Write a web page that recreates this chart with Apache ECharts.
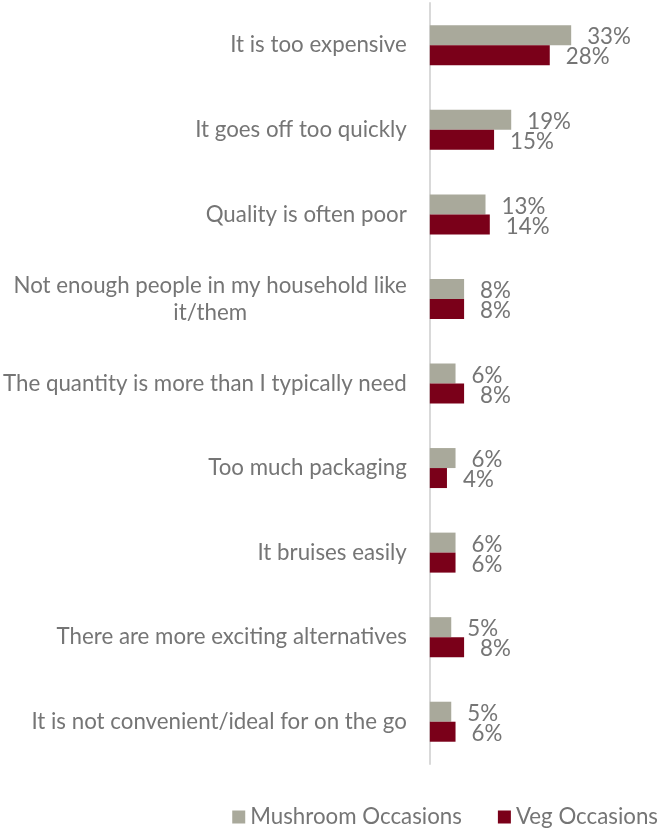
<!DOCTYPE html>
<html>
<head>
<meta charset="utf-8">
<script src="https://cdn.jsdelivr.net/npm/echarts@6/dist/echarts.min.js"></script>
<style>
  html, body { margin: 0; padding: 0; background: #ffffff; }
  #chart { width: 659px; height: 832px; }
</style>
</head>
<body>
<div id="chart"></div>
<script>
// Reasons given for not buying, share of respondents (%)
const categories = [
  'It is too expensive',
  'It goes off too quickly',
  'Quality is often poor',
  'Not enough people in my household like it/them',
  'The quantity is more than I typically need',
  'Too much packaging',
  'It bruises easily',
  'There are more exciting alternatives',
  'It is not convenient/ideal for on the go'
];
const seriesNames = ['Mushroom Occasions', 'Veg Occasions'];
const mushroomValues = [33, 19, 13, 8, 6, 6, 6, 5, 5];
const vegValues = [28, 15, 14, 8, 8, 4, 6, 8, 6];

const FONT = 'Lato';
const FONT_SIZE = 22.3;
const TEXT_COLOR = '#757575';
const LABEL_MAX_WIDTH = 406;

// Word-wrap a category label to the available width, centring each line
const measureCtx = document.createElement('canvas').getContext('2d');
measureCtx.font = FONT_SIZE + 'px ' + FONT;
function wrapLabel(text) {
  const words = text.split(' ');
  const lines = [];
  let line = '';
  words.forEach(w => {
    const test = line ? line + ' ' + w : w;
    if (line && measureCtx.measureText(test).width > LABEL_MAX_WIDTH) {
      lines.push(line);
      line = w;
    } else {
      line = test;
    }
  });
  if (line) lines.push(line);
  return lines.map(l => '{c|' + l + '}').join('\n');
}

const chart = echarts.init(document.getElementById('chart'), null, { renderer: 'canvas' });

const labelStyle = {
  show: true,
  position: 'right',
  distance: 16,
  offset: [0, 2],
  formatter: '{c}%',
  color: TEXT_COLOR,
  fontFamily: FONT,
  fontSize: FONT_SIZE
};

chart.setOption({
  animation: false,
  textStyle: { fontFamily: FONT },
  grid: { left: 429, right: 15, top: 3, bottom: 68, containLabel: false },
  xAxis: {
    type: 'value',
    min: 0,
    max: 50,
    show: false
  },
  yAxis: {
    type: 'category',
    data: categories,
    inverse: true,
    axisLine: { show: true, lineStyle: { color: '#D9D9D9', width: 2 } },
    axisTick: { show: false },
    axisLabel: {
      margin: 23,
      color: TEXT_COLOR,
      fontFamily: FONT,
      fontSize: FONT_SIZE,
      lineHeight: 27,
      formatter: wrapLabel,
      rich: {
        c: { align: 'center', color: TEXT_COLOR, fontFamily: FONT, fontSize: FONT_SIZE, lineHeight: 27 }
      }
    }
  },
  legend: {
    top: 806,
    right: 1,
    padding: 0,
    icon: 'rect',
    itemWidth: 13,
    itemHeight: 13,
    itemGap: 36,
    textStyle: { color: TEXT_COLOR, fontFamily: FONT, fontSize: FONT_SIZE },
    data: seriesNames
  },
  series: [
    {
      name: seriesNames[0],
      type: 'bar',
      data: mushroomValues,
      barWidth: 20,
      barGap: '0%',
      itemStyle: { color: '#A9A99B' },
      label: labelStyle
    },
    {
      name: seriesNames[1],
      type: 'bar',
      data: vegValues,
      barWidth: 20,
      barGap: '0%',
      itemStyle: { color: '#7A0019' },
      label: labelStyle
    }
  ]
});
</script>
</body>
</html>
